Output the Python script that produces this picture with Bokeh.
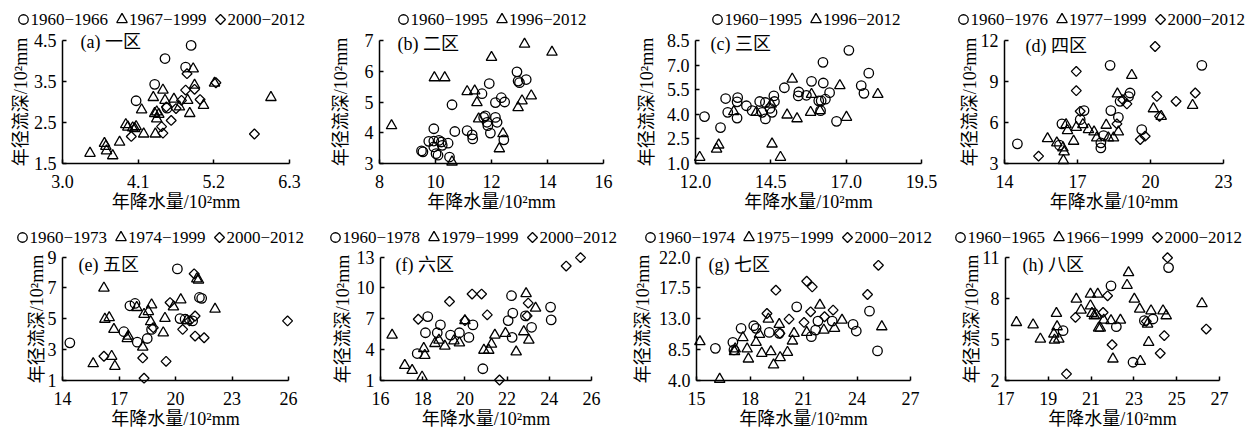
import numpy as np
from bokeh.plotting import figure
from bokeh.models import Range1d, FixedTicker, PrintfTickFormatter, Label
from bokeh.layouts import column, row
from bokeh.embed import file_html
from bokeh.resources import INLINE

FONT = "'Liberation Serif', 'Noto Sans CJK SC'"
X_LABEL = "年降水量/10²mm"
Y_LABEL = "年径流深/10²mm"

# ---------------- (a) 一区 ----------------
A_X_TICKS = [3.0, 4.1, 5.2, 6.3]
A_Y_TICKS = [1.5, 2.5, 3.5, 4.5]
A_PERIODS = ["1960−1966", "1967−1999", "2000−2012"]
A1_X = [4.87, 4.49, 4.79, 4.34, 4.07, 4.52]
A1_Y = [4.38, 4.06, 3.85, 3.43, 3.03, 2.85]
A2_X = [3.40, 3.61, 3.63, 3.64, 3.73, 3.83, 3.92, 3.95, 4.02, 4.07, 4.15, 4.18, 4.32, 4.34, 4.37,
        4.35, 4.46, 4.49, 4.37, 4.62, 4.70, 4.82, 4.85, 4.90, 4.92, 5.05, 5.21, 6.03, 4.40, 4.05]
A2_Y = [1.75, 1.99, 1.92, 1.81, 1.69, 2.02, 2.45, 2.39, 2.37, 2.40, 2.81, 2.22, 3.11, 2.72, 2.76,
        2.22, 3.29, 3.04, 2.59, 3.07, 2.88, 3.04, 2.72, 3.81, 3.41, 2.92, 3.46, 3.11, 2.70, 2.35]
A3_X = [4.00, 4.46, 4.44, 4.58, 4.65, 4.79, 4.81, 4.92, 5.00, 5.23, 5.79, 4.51, 4.73]
A3_Y = [2.16, 2.24, 2.40, 2.55, 2.84, 3.29, 3.69, 3.31, 3.06, 3.47, 2.22, 2.88, 3.04]

# ---------------- (b) 二区 ----------------
B_X_TICKS = [8, 10, 12, 14, 16]
B_Y_TICKS = [3, 4, 5, 6, 7]
B_PERIODS = ["1960−1995", "1996−2012"]
B1_X = [9.50, 9.55, 9.76, 9.94, 9.94, 9.94, 10.12, 10.21, 10.24, 10.02, 10.09, 10.59, 10.69, 10.45,
        10.50, 11.13, 11.31, 11.33, 11.66, 11.72, 11.78, 11.84, 11.87, 11.92, 11.96, 12.14, 12.20,
        12.14, 12.35, 12.47, 12.44, 12.91, 12.95, 13.00, 13.24]
B1_Y = [3.41, 3.38, 3.72, 3.73, 4.13, 3.54, 3.75, 3.70, 3.59, 3.32, 3.27, 4.91, 4.04, 3.66,
        3.21, 4.07, 3.93, 3.80, 5.27, 4.50, 4.55, 4.34, 4.23, 5.60, 3.99, 4.50, 4.34,
        4.98, 5.14, 5.00, 3.77, 5.98, 5.68, 5.63, 5.73]
B2_X = [8.43, 9.96, 10.33, 11.13, 11.40, 11.48, 11.54, 12.00, 12.28, 12.41, 12.95, 13.09, 13.18,
        13.42, 14.16, 10.59]
B2_Y = [4.23, 5.79, 5.79, 5.34, 5.36, 4.98, 4.45, 6.45, 3.48, 3.97, 4.82, 5.04, 6.88,
        5.20, 6.62, 3.05]

# ---------------- (c) 三区 ----------------
C_X_TICKS = [12.0, 14.5, 17.0, 19.5]
C_Y_TICKS = [1.0, 2.5, 4.0, 5.5, 7.0, 8.5]
C_PERIODS = ["1960−1995", "1996−2012"]
C1_X = [12.30, 12.83, 13.00, 13.07, 13.38, 13.40, 13.38, 13.69, 13.88, 14.13, 14.21, 14.32, 14.32,
        14.47, 14.54, 14.60, 14.62, 14.95, 15.43, 15.41, 15.68, 15.85, 16.09, 16.23, 16.24, 16.17,
        16.31, 16.45, 16.68, 17.09, 17.50, 17.59, 17.75, 16.15]
C1_Y = [3.86, 3.19, 4.96, 4.12, 4.76, 5.02, 3.77, 4.52, 4.22, 4.78, 4.12, 4.72, 3.72,
        4.36, 4.12, 5.12, 4.78, 5.62, 5.36, 5.12, 5.16, 6.01, 4.82, 7.17, 5.91, 4.82,
        4.92, 5.32, 3.57, 7.90, 5.75, 5.28, 6.51, 4.22]
C2_X = [12.14, 12.70, 12.77, 13.27, 14.02, 14.54, 14.82, 14.51, 15.04, 15.21, 15.37, 15.85, 15.82,
        16.13, 16.79, 17.01, 18.05]
C2_Y = [1.38, 1.88, 2.13, 4.16, 4.12, 2.19, 1.38, 4.62, 3.96, 6.15, 3.73, 5.22, 4.12,
        4.22, 5.75, 3.82, 5.22]

# ---------------- (d) 四区 ----------------
D_X_TICKS = [14, 17, 20, 23]
D_Y_TICKS = [3, 6, 9, 12]
D_PERIODS = ["1960−1976", "1977−1999", "2000−2012"]
D1_X = [14.53, 16.36, 16.26, 17.11, 17.27, 17.96, 17.96, 18.07, 18.34, 18.37, 18.68, 18.75, 19.16,
        19.64, 22.11, 19.10]
D1_Y = [4.44, 5.90, 4.34, 6.21, 6.87, 4.51, 4.14, 5.04, 10.18, 6.87, 6.38, 7.55, 8.16,
        5.48, 10.18, 7.90]
D2_X = [15.77, 16.15, 16.40, 16.45, 16.42, 16.53, 16.59, 16.84, 16.95, 17.22, 17.45, 17.68, 17.79,
        18.18, 18.27, 18.48, 18.68, 18.64, 19.23, 20.12, 20.44, 21.73]
D2_Y = [4.82, 4.51, 4.14, 3.85, 3.22, 5.85, 5.41, 4.63, 5.65, 5.85, 5.48, 5.31, 4.87,
        5.80, 4.87, 4.87, 5.31, 8.09, 9.45, 7.01, 6.45, 7.26]
D3_X = [15.40, 16.95, 16.95, 17.11, 18.62, 18.86, 19.03, 19.58, 19.78, 20.19, 20.26, 21.05, 21.84,
        20.37]
D3_Y = [3.54, 9.74, 8.33, 6.82, 5.90, 7.67, 7.36, 4.75, 5.00, 11.56, 7.91, 7.55, 8.16,
        6.45]

# ---------------- (e) 五区 ----------------
E_X_TICKS = [14, 17, 20, 23, 26]
E_Y_TICKS = [1, 3, 5, 7, 9]
E_PERIODS = ["1960−1973", "1974−1999", "2000−2012"]
E1_X = [14.39, 17.26, 17.58, 17.85, 17.97, 18.50, 18.73, 20.10, 20.24, 20.91, 21.27, 21.39, 20.51]
E1_Y = [3.44, 4.16, 5.84, 5.99, 3.48, 3.72, 4.31, 8.23, 5.01, 4.86, 6.38, 6.32, 4.97]
E2_X = [15.63, 16.20, 16.25, 16.48, 16.61, 16.78, 16.73, 17.44, 17.49, 17.94, 18.26, 18.33, 18.56,
        18.73, 18.68, 19.35, 19.44, 19.89, 20.28, 21.13, 21.22, 22.10, 20.60]
E2_Y = [2.09, 6.99, 4.97, 5.07, 2.57, 1.92, 4.31, 3.72, 3.88, 5.73, 3.16, 5.29, 5.47,
        5.90, 4.81, 4.09, 5.03, 5.77, 6.23, 7.58, 7.51, 5.62, 4.90]
E3_X = [16.20, 18.26, 18.33, 18.82, 19.50, 19.71, 20.38, 20.99, 21.04, 21.52, 21.04, 25.95, 20.74]
E3_Y = [2.57, 2.46, 1.15, 4.42, 2.24, 6.05, 4.31, 7.91, 3.88, 3.77, 5.18, 4.86, 4.86]

# ---------------- (f) 六区 ----------------
F_X_TICKS = [16, 18, 20, 22, 24, 26]
F_Y_TICKS = [1, 4, 7, 10, 13]
F_PERIODS = ["1960−1978", "1979−1999", "2000−2012"]
F1_X = [17.74, 18.24, 18.13, 18.69, 18.84, 19.32, 19.74, 20.19, 20.38, 20.85, 22.21, 22.05, 22.27,
        22.24, 22.87, 23.16, 24.06, 24.09]
F1_Y = [3.62, 7.21, 5.64, 5.64, 6.40, 5.41, 5.64, 5.19, 6.40, 2.14, 9.24, 6.82, 7.54,
        5.19, 7.28, 6.17, 8.13, 6.89]
F2_X = [16.55, 17.15, 17.50, 17.97, 18.05, 18.10, 18.58, 18.77, 19.05, 19.48, 19.74, 20.00, 20.90,
        21.13, 21.26, 21.42, 21.92, 22.43, 22.79, 23.03, 22.90, 23.35]
F2_Y = [5.41, 2.47, 1.98, 1.33, 4.11, 3.45, 4.60, 4.92, 4.34, 4.86, 4.66, 6.82, 3.94,
        3.94, 4.53, 5.41, 5.58, 3.78, 5.74, 4.92, 9.44, 8.03]
F3_X = [17.79, 19.27, 20.00, 20.34, 20.79, 21.06, 21.64, 23.00, 22.95, 24.80, 25.48]
F3_Y = [6.95, 8.68, 6.82, 9.40, 9.40, 7.38, 1.05, 8.52, 7.28, 12.12, 12.94]

# ---------------- (g) 七区 ----------------
G_X_TICKS = [15, 18, 21, 24, 27]
G_Y_TICKS = [4.0, 8.5, 13.0, 17.5, 22.0]
G_PERIODS = ["1960−1974", "1975−1999", "2000−2012"]
G1_X = [16.06, 17.04, 17.10, 17.50, 18.21, 18.34, 19.08, 19.64, 20.62, 21.44, 21.68, 21.81, 22.61,
        23.78, 23.96, 24.70, 25.15]
G1_Y = [8.69, 9.56, 8.45, 11.60, 11.98, 11.60, 11.01, 10.87, 14.74, 10.39, 11.35, 12.66, 12.66,
        12.18, 11.21, 14.11, 8.31]
G2_X = [15.19, 16.30, 17.13, 17.17, 17.60, 17.84, 17.91, 18.34, 18.53, 18.66, 19.03, 19.17, 19.32,
        19.64, 19.69, 20.10, 20.38, 20.47, 21.18, 21.92, 22.14, 22.74, 23.16, 25.39]
G2_Y = [9.66, 4.19, 8.21, 8.60, 10.24, 8.60, 7.14, 9.56, 10.72, 7.97, 12.95, 8.21, 6.27,
        12.18, 7.34, 8.11, 9.76, 10.87, 11.01, 14.98, 11.35, 11.60, 12.80, 11.84]
G3_X = [18.95, 19.45, 19.68, 20.19, 21.18, 21.49, 21.03, 21.40, 22.18, 22.66, 24.59, 25.20]
G3_Y = [13.77, 17.16, 10.87, 12.95, 18.47, 17.64, 12.47, 14.01, 13.29, 14.26, 16.53, 20.79]

# ---------------- (h) 八区 ----------------
H_X_TICKS = [17, 19, 21, 23, 25, 27]
H_Y_TICKS = [2, 5, 8, 11]
H_PERIODS = ["1960−1965", "1966−1999", "2000−2012"]
H1_X = [19.69, 21.93, 22.18, 22.96, 23.49, 23.89, 24.62]
H1_Y = [5.63, 8.90, 5.92, 3.33, 6.36, 6.48, 10.23]
H2_X = [17.51, 18.29, 18.63, 19.26, 19.29, 19.38, 19.41, 19.49, 20.31, 20.53, 20.97, 20.97, 21.04,
        21.15, 21.25, 21.35, 21.43, 21.31, 21.59, 21.93, 22.02, 22.37, 22.68, 22.75, 23.02, 23.27,
        23.30, 23.64, 23.69, 23.80, 24.36, 24.51, 26.18]
H2_Y = [6.23, 6.06, 5.02, 5.39, 4.95, 6.89, 5.92, 5.02, 7.93, 7.13, 8.29, 7.44, 6.89,
        6.72, 6.77, 5.82, 5.82, 8.29, 6.40, 6.36, 3.57, 6.40, 8.94, 9.86, 7.93, 7.20,
        3.40, 6.11, 4.78, 7.08, 7.08, 6.72, 7.61]
H3_X = [19.85, 20.27, 21.56, 21.77, 21.98, 23.58, 24.23, 24.42, 24.57, 26.38]
H3_Y = [2.48, 6.60, 6.96, 8.17, 4.61, 6.31, 3.98, 5.27, 10.95, 5.75]

PANELS = [
    dict(tag="(a) 一区", xt=A_X_TICKS, yt=A_Y_TICKS, xf="%.1f", yf="%.1f", periods=A_PERIODS,
         series=[(A1_X, A1_Y), (A2_X, A2_Y), (A3_X, A3_Y)]),
    dict(tag="(b) 二区", xt=B_X_TICKS, yt=B_Y_TICKS, xf="%d", yf="%d", periods=B_PERIODS,
         series=[(B1_X, B1_Y), (B2_X, B2_Y)]),
    dict(tag="(c) 三区", xt=C_X_TICKS, yt=C_Y_TICKS, xf="%.1f", yf="%.1f", periods=C_PERIODS,
         series=[(C1_X, C1_Y), (C2_X, C2_Y)]),
    dict(tag="(d) 四区", xt=D_X_TICKS, yt=D_Y_TICKS, xf="%d", yf="%d", periods=D_PERIODS,
         series=[(D1_X, D1_Y), (D2_X, D2_Y), (D3_X, D3_Y)]),
    dict(tag="(e) 五区", xt=E_X_TICKS, yt=E_Y_TICKS, xf="%d", yf="%d", periods=E_PERIODS,
         series=[(E1_X, E1_Y), (E2_X, E2_Y), (E3_X, E3_Y)]),
    dict(tag="(f) 六区", xt=F_X_TICKS, yt=F_Y_TICKS, xf="%d", yf="%d", periods=F_PERIODS,
         series=[(F1_X, F1_Y), (F2_X, F2_Y), (F3_X, F3_Y)]),
    dict(tag="(g) 七区", xt=G_X_TICKS, yt=G_Y_TICKS, xf="%d", yf="%.1f", periods=G_PERIODS,
         series=[(G1_X, G1_Y), (G2_X, G2_Y), (G3_X, G3_Y)]),
    dict(tag="(h) 八区", xt=H_X_TICKS, yt=H_Y_TICKS, xf="%d", yf="%d", periods=H_PERIODS,
         series=[(H1_X, H1_Y), (H2_X, H2_Y), (H3_X, H3_Y)]),
]

# layout geometry, pixels inside each figure (origin top-left):
# w: figure width; pl/pr: plot-area left/right; leg: x of first legend key centre; tx/ty: tag position
GEO = [
    dict(w=315, pl=62, pr=289, leg=23, tx=80, ty=41, ys=0),
    dict(w=315, pl=64, pr=288, leg=88, tx=82, ty=43, ys=11),
    dict(w=310, pl=65, pr=291, leg=87, tx=80, ty=43, ys=7),
    dict(w=317, pl=64, pr=283, leg=23, tx=85, ty=45, ys=-2),
    dict(w=315, pl=62, pr=288, leg=22, tx=78, ty=50, ys=-2),
    dict(w=315, pl=65, pr=276, leg=20, tx=80, ty=50, ys=1),
    dict(w=310, pl=66, pr=280, leg=20, tx=78, ty=50, ys=3),
    dict(w=317, pl=65, pr=279, leg=20, tx=82, ty=50, ys=-3),
]
ROWGEO = [dict(h=214, pt=40.0, pb=163.0, legc=19),
          dict(h=214, pt=42.5, pb=166.0, legc=23)]
LEG_PITCH = 98.5
LEG_TEXT_GAP = 7

MARKERS = [dict(marker="circle", size=9.5, angle=0.0),
           dict(marker="triangle", size=10.5, angle=0.0),
           dict(marker="square", size=7, angle=np.pi / 4)]
STYLE = dict(fill_alpha=0, line_color="black", line_width=1.3)


def make_panel(cfg, geo, rg):
    W, H = geo["w"], rg["h"]
    x0, x1 = cfg["xt"][0], cfg["xt"][-1]
    y0, y1 = cfg["yt"][0], cfg["yt"][-1]
    pl, pr, pt, pb = geo["pl"], geo["pr"], rg["pt"], rg["pb"]
    kx = (x1 - x0) / (pr - pl)
    ky = (y1 - y0) / (pb - pt)
    xs0, xs1 = x0 - kx * pl, x1 + kx * (W - pr)
    ys0, ys1 = y0 - ky * (H - pb), y1 + ky * pt
    p = figure(width=W, height=H, min_border=0,
               min_border_left=0, min_border_right=0, min_border_top=0, min_border_bottom=0,
               x_range=Range1d(xs0, xs1), y_range=Range1d(ys0, ys1),
               output_backend="svg", toolbar_location=None, tools="")
    p.outline_line_color = None
    p.grid.visible = False
    p.background_fill_color = "white"
    p.border_fill_color = "white"
    p.xaxis.axis_label = X_LABEL
    p.yaxis.axis_label = Y_LABEL
    for ax, ticks, fmt in ((p.xaxis[0], cfg["xt"], cfg["xf"]), (p.yaxis[0], cfg["yt"], cfg["yf"])):
        ax.ticker = FixedTicker(ticks=ticks)
        ax.formatter = PrintfTickFormatter(format=fmt)
        ax.axis_line_color = "black"
        ax.axis_line_width = 1.5
        ax.major_tick_line_color = "black"
        ax.major_tick_line_width = 1.5
        ax.major_tick_in = 4
        ax.major_tick_out = 0
        ax.minor_tick_line_color = None
        ax.major_label_text_font = FONT
        ax.major_label_text_font_size = "18px"
        ax.major_label_text_color = "black"
        ax.axis_label_text_font = FONT
        ax.axis_label_text_font_size = "18px"
        ax.axis_label_text_font_style = "normal"
        ax.axis_label_text_color = "black"
    p.xaxis.bounds = (x0, x1)
    p.yaxis.bounds = (y0, y1)
    p.xaxis.fixed_location = y0
    p.yaxis.fixed_location = x0
    p.xaxis.major_label_standoff = 11
    p.xaxis.axis_label_standoff = 1
    p.yaxis.major_label_standoff = 6
    p.yaxis.axis_label_standoff = geo["ys"]

    # data points
    for i, (xs, ys) in enumerate(cfg["series"]):
        m = MARKERS[i]
        p.scatter(xs, ys, marker=m["marker"], size=m["size"], angle=m["angle"], **STYLE)

    # legend keys above the plot (pixel layout converted through the figure's own ranges)
    for i, period in enumerate(cfg["periods"]):
        m = MARKERS[i]
        cx = geo["leg"] + i * LEG_PITCH
        cy = rg["legc"]
        lx = xs0 + cx * (xs1 - xs0) / W
        ly = ys1 - cy * (ys1 - ys0) / H
        p.scatter([lx], [ly], marker=m["marker"], size=m["size"], angle=m["angle"], **STYLE)
        p.add_layout(Label(x=cx + LEG_TEXT_GAP, y=H - cy, x_units="screen", y_units="screen",
                           text=period, text_baseline="middle", text_align="left",
                           text_font=FONT, text_font_size="17px", text_color="black"))

    p.add_layout(Label(x=geo["tx"], y=H - geo["ty"], x_units="screen", y_units="screen",
                       text=cfg["tag"], text_baseline="middle", text_align="left",
                       text_font=FONT, text_font_size="18px", text_color="black"))
    return p


figs = [make_panel(PANELS[k], GEO[k], ROWGEO[k // 4]) for k in range(8)]
layout = column(row(*figs[:4], spacing=0), row(*figs[4:], spacing=0), spacing=0)

open("out.html", "w").write(file_html(layout, INLINE))
